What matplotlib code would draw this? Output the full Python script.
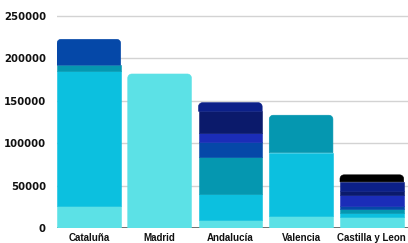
import numpy as np
import matplotlib.pyplot as plt
from matplotlib.patches import Polygon, Rectangle

# ===== DADOS =====
regioes = ['Cataluña', 'Madrid', 'Andalucía', 'Valencia', 'Castilla y Leon']
# segmentos empilhados (de baixo para cima), um array por série
s_claro  = [26000, 181600, 9800, 14500, 12600]
s_ciano  = [159500, 0, 30600, 74300, 4700]
s_teal   = [6500, 0, 43700, 44200, 4800]
s_azul   = [30500, 0, 17700, 0, 3800]
s_royal  = [0, 0, 10600, 0, 13000]
s_navy   = [0, 0, 25200, 0, 5100]
s_navy2  = [0, 0, 10200, 0, 10400]
s_preto  = [0, 0, 0, 0, 8300]

series = [s_claro, s_ciano, s_teal, s_azul, s_royal, s_navy, s_navy2, s_preto]
cores = ['#5ce1e6', '#0cc0df', '#0597b0', '#0548a8', '#1b2db8', '#0b1a6b', '#0c2088', '#000000']
yticks = [0, 50000, 100000, 150000, 200000, 250000]

# ===== FIGURA =====
W, H = 408, 243
fig = plt.figure(figsize=(W / 100, H / 100), dpi=100)
ax_w = 351
ax_h = 220.5
ax = fig.add_axes([57 / W, 15 / H, ax_w / W, ax_h / H])
ax.set_xlim(-0.45, -0.45 + ax_w / 70.75)
ax.set_ylim(0, 260000)

largura = 0.9
px_x = 70.75
px_y = ax_h / 260000
rx = 4.0 / px_x   # raio do canto em unidades de x
ry = 4.0 / px_y   # raio do canto em unidades de y


def topo_arredondado(x0, y0, w, h):
    t = np.linspace(0, np.pi / 2, 10)
    r_y = min(ry, h)
    pts = [(x0, y0), (x0 + w, y0)]
    # canto direito
    cx, cy = x0 + w - rx, y0 + h - r_y
    pts += list(zip(cx + rx * np.cos(t), cy + r_y * np.sin(t)))
    # canto esquerdo
    cx = x0 + rx
    pts += list(zip(cx - rx * np.sin(t), cy + r_y * np.cos(t)))
    return pts


dados = np.array(series)
x = np.arange(len(regioes))
for i in x:
    base = 0
    col = dados[:, i]
    ultimo = max(k for k in range(len(col)) if col[k] > 0)
    for k in range(len(col)):
        h = col[k]
        if h <= 0:
            continue
        estilo = dict(facecolor=cores[k], edgecolor=cores[k], linewidth=0.4, zorder=3 + k * 0.01)
        if k < ultimo:
            ax.add_patch(Rectangle((i - largura / 2, base), largura, h, **estilo))
        else:
            ax.add_patch(Polygon(topo_arredondado(i - largura / 2, base, largura, h),
                                 closed=True, **estilo))
        base += h

# grade
for v in yticks[1:]:
    ax.axhline(v, color='#d3d3d3', linewidth=1, zorder=1)
ax.axhline(0, color='#555555', linewidth=1.2, zorder=2)

for s in ax.spines.values():
    s.set_visible(False)
ax.set_yticks(yticks)
ax.set_yticklabels([str(v) for v in yticks], fontsize=7.3, fontweight='bold',
                   family='DejaVu Sans', color='#111111')
ax.set_xticks(x)
ax.set_xticklabels(regioes, fontsize=7, fontweight='bold',
                   family='Liberation Sans', color='#111111')
ax.tick_params(axis='y', length=0, pad=8)
ax.tick_params(axis='x', length=0, pad=3.5)

fig.savefig('out.png', dpi=100)
